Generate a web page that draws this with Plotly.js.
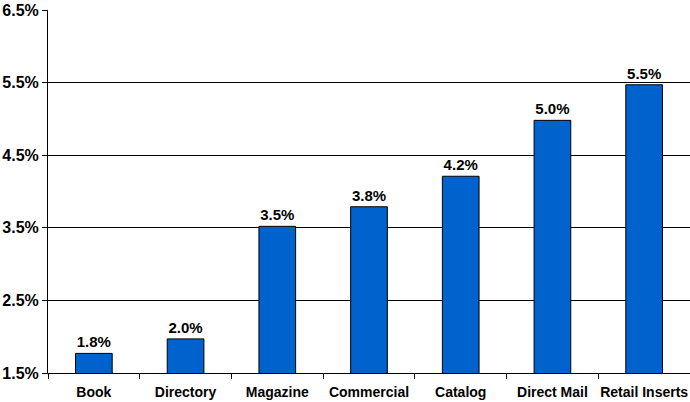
<!DOCTYPE html>
<html>
<head>
<meta charset="utf-8">
<script src="https://cdn.plot.ly/plotly-3.0.1.min.js"></script>
<style>html,body{margin:0;padding:0;background:#fff;}#chart{width:690px;height:402px;}</style>
</head>
<body>
<div id="chart"></div>
<script>
const categories = ["Book", "Directory", "Magazine", "Commercial", "Catalog", "Direct Mail", "Retail Inserts"];
const values = [1.77, 1.97, 3.52, 3.79, 4.21, 4.98, 5.47];
const yTicks = [1.5, 2.5, 3.5, 4.5, 5.5, 6.5];
const yTickLabels = ["1.5%", "2.5%", "3.5%", "4.5%", "5.5%", "6.5%"];

const trace = {
  type: "bar",
  x: categories,
  y: values,
  width: 0.4,
  marker: {color: "#0062CC", line: {color: "#000", width: 1}},
  texttemplate: "%{y:.1f}%",
  textposition: "outside",
  cliponaxis: false,
  textfont: {family: "Liberation Sans, Arial, sans-serif", size: 15, color: "#000", weight: "bold"},
  hoverinfo: "none"
};

const layout = {
  width: 690, height: 402,
  margin: {l: 48, r: 0, t: 10, b: 29},
  paper_bgcolor: "#fff", plot_bgcolor: "#fff",
  showlegend: false,
  font: {family: "Liberation Sans, Arial, sans-serif", color: "#000"},
  xaxis: {
    showline: true, linecolor: "#000", linewidth: 1,
    ticks: "outside", tickson: "boundaries", ticklen: 5, tickcolor: "#000",
    tickangle: 0,
    ticklabelstandoff: 6,
    tickfont: {size: 14, weight: "bold"},
    showgrid: false
  },
  yaxis: {
    range: [1.5, 6.5],
    tickmode: "array",
    tickvals: yTicks,
    ticktext: yTickLabels,
    showline: true, linecolor: "#000", linewidth: 1,
    ticks: "outside", ticklen: 5, tickcolor: "#000",
    showgrid: true, gridcolor: "#000", gridwidth: 1,
    zeroline: false,
    tickfont: {size: 16, weight: "bold"}
  }
};

Plotly.newPlot("chart", [trace], layout, {displayModeBar: false, staticPlot: true});
</script>
</body>
</html>
